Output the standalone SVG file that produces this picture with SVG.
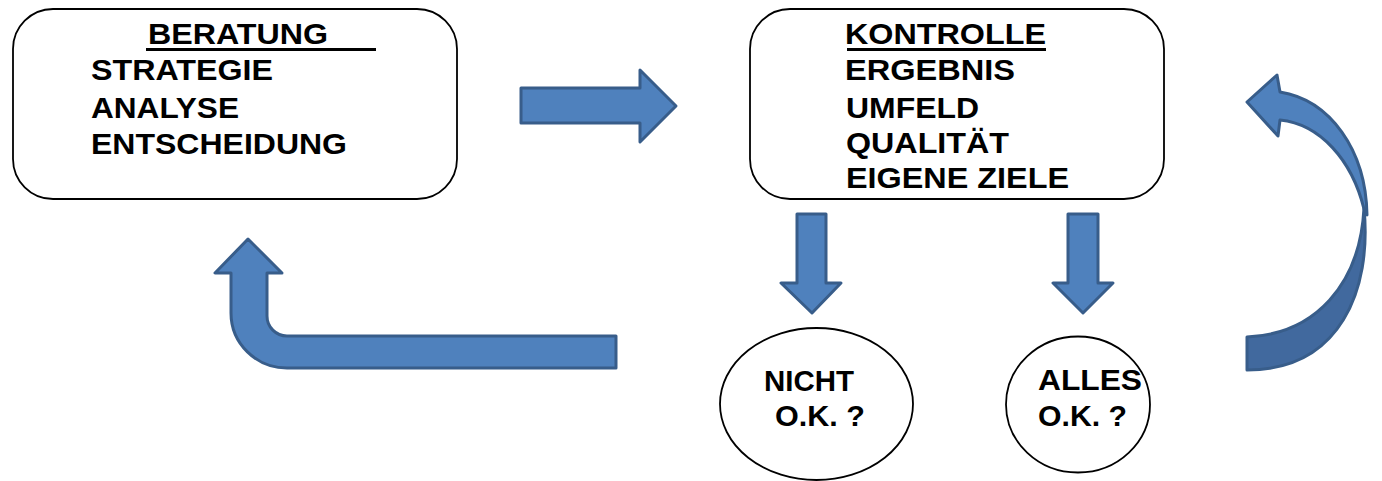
<svg xmlns="http://www.w3.org/2000/svg" width="1382" height="481" viewBox="0 0 1382 481">
<style>
.box{fill:#fff;stroke:#000;stroke-width:1.8}
.t{font-family:"Liberation Sans",Arial,sans-serif;font-weight:bold;font-size:30px;fill:#000}
.e{font-size:29px}
.ul{stroke:#000;stroke-width:3}
.arr{fill:#4F81BD;stroke:#385D8A;stroke-width:3;stroke-linejoin:round}
.arrd{fill:#41699E;stroke:#385D8A;stroke-width:3;stroke-linejoin:round}
</style>
<rect width="1382" height="481" fill="#fff"/>
<g id="connectors">
  <path id="arrow-right" class="arr" d="M521,88 L640,88 L640,70 L676,106 L640,142 L640,123 L521,123 Z"/>
  <path id="arrow-down-1" class="arr" d="M797,214 L826,214 L826,283 L841,283 L812,313 L781,283 L797,283 Z"/>
  <path id="arrow-down-2" class="arr" d="M1068,214 L1098,214 L1098,283 L1113,283 L1083,313 L1053,283 L1068,283 Z"/>
  <path id="arrow-bent-up" class="arr" d="M616,336 L287,336 A20,20 0 0 1 267,316 L267,273 L282,273 L248,239 L215,273 L231,273 L231,313 A56,55 0 0 0 287,368 L616,368 Z"/>
  <g id="arrow-curved">
    <path class="arrd" d="M1247,337 C1315,334 1360,285 1364,208 C1372,290 1340,370 1247,370 Z"/>
    <path class="arr" d="M1280,92 C1330,100 1366,150 1367,215 L1364,209 C1352,160 1320,124 1280,120 L1278,136 L1247,102 L1277,75 Z"/>
  </g>
</g>
<g id="node-beratung">
  <rect class="box" x="13" y="9" width="444" height="190" rx="40" ry="40"/>
  <text class="t" x="148" y="44" textLength="180" lengthAdjust="spacingAndGlyphs">BERATUNG</text>
  <line class="ul" x1="146" y1="49.5" x2="376" y2="49.5"/>
  <text class="t" x="91" y="80" textLength="182" lengthAdjust="spacingAndGlyphs">STRATEGIE</text>
  <text class="t" x="91" y="118" textLength="148" lengthAdjust="spacingAndGlyphs">ANALYSE</text>
  <text class="t" x="91" y="154" textLength="256" lengthAdjust="spacingAndGlyphs">ENTSCHEIDUNG</text>
</g>
<g id="node-kontrolle">
  <rect class="box" x="750" y="9" width="414" height="190" rx="40" ry="40"/>
  <text class="t" x="845" y="44" textLength="201" lengthAdjust="spacingAndGlyphs">KONTROLLE</text>
  <line class="ul" x1="847" y1="49.5" x2="1046" y2="49.5"/>
  <text class="t" x="845" y="80" textLength="170" lengthAdjust="spacingAndGlyphs">ERGEBNIS</text>
  <text class="t" x="846" y="118" textLength="133" lengthAdjust="spacingAndGlyphs">UMFELD</text>
  <text class="t" x="846" y="153" textLength="163" lengthAdjust="spacingAndGlyphs">QUALITÄT</text>
  <text class="t" x="846" y="188" textLength="223" lengthAdjust="spacingAndGlyphs">EIGENE ZIELE</text>
</g>
<g id="node-nicht-ok">
  <ellipse class="box" cx="816.5" cy="404" rx="96.5" ry="76"/>
  <text class="t e" x="764" y="391" textLength="90" lengthAdjust="spacingAndGlyphs">NICHT</text>
  <text class="t e" x="775" y="426" textLength="90" lengthAdjust="spacingAndGlyphs">O.K. ?</text>
</g>
<g id="node-alles-ok">
  <ellipse class="box" cx="1078" cy="404.5" rx="72" ry="68"/>
  <text class="t e" x="1038" y="390" textLength="104" lengthAdjust="spacingAndGlyphs">ALLES</text>
  <text class="t e" x="1038" y="426" textLength="89" lengthAdjust="spacingAndGlyphs">O.K. ?</text>
</g>
</svg>
